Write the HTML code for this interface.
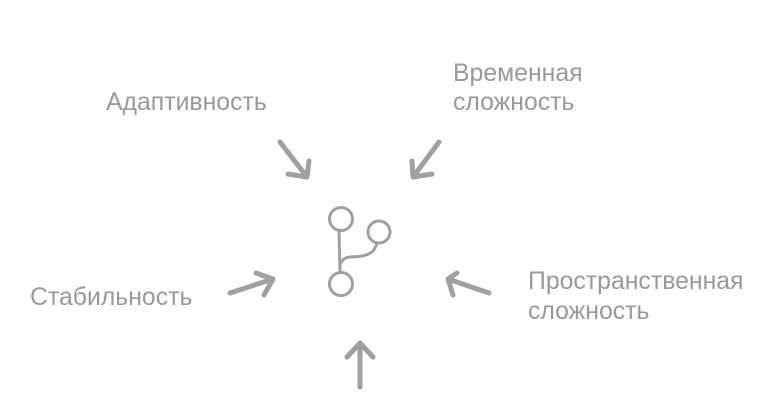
<!DOCTYPE html>
<html><head><meta charset="utf-8"><style>
html,body{margin:0;padding:0;background:#fff;}
svg{display:block}
text{font-family:"Liberation Sans",sans-serif;font-size:24.8px;fill:#999}
</style></head><body>
<svg width="780" height="400" viewBox="0 0 780 400">
<text x="106" y="110">Адаптивность</text>
<text x="453" y="81">Временная</text>
<text x="453" y="110">сложность</text>
<text x="30" y="305">Стабильность</text>
<text x="528" y="289">Пространственная</text>
<text x="528" y="319">сложность</text>
<g fill="none" stroke="#a0a0a0" stroke-width="5" stroke-linecap="round" stroke-linejoin="round">
<path d="M280 142 L307 177 M288 174 L307 177 L309 161"/>
<path d="M439 142 L413 177 M412 161 L413 177 L432 174"/>
<path d="M230 293 L273 279 M256 273 L273 279 L264 295"/>
<path d="M489 293 L448 279 M457 273 L448 279 L453 295"/>
<path d="M360 387 L360 343 M347 357 L360 343 L373 357"/>
</g>
<g fill="none" stroke="#a0a0a0" stroke-width="3" stroke-linecap="round">
<circle cx="341" cy="219" r="11.5"/>
<circle cx="379" cy="232" r="11"/>
<circle cx="341" cy="284" r="11.5"/>
<path d="M339 231 L340 272"/>
<path d="M340 265 C344 254 352 258 362 256 C372 254 375 250 377 243"/>
</g>
</svg>
</body></html>
